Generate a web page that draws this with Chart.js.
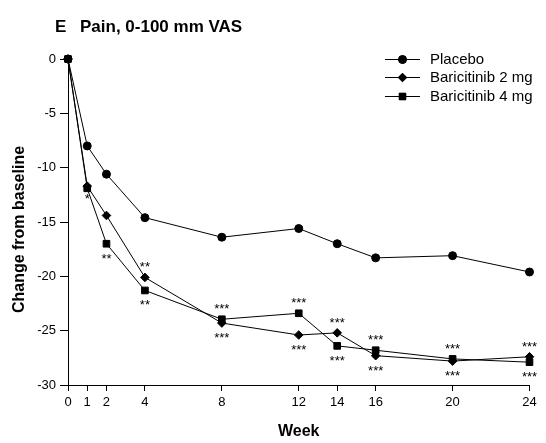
<!DOCTYPE html>
<html>
<head>
<meta charset="utf-8">
<script src="https://cdn.jsdelivr.net/npm/chart.js@4/dist/chart.umd.min.js"></script>
<style>
  html, body { margin: 0; padding: 0; background: #fff; }
  #wrap { width: 546px; height: 443px; position: relative; }
</style>
</head>
<body>
<div id="wrap"><canvas id="c" width="546" height="443"></canvas></div>
<script>
// Study weeks at which pain was assessed
const weeks = [0, 1, 2, 4, 8, 12, 14, 16, 20, 24];

// Mean change from baseline in pain (0-100 mm VAS)
const placebo = [0, -8.0, -10.6, -14.6, -16.4, -15.6, -17.0, -18.3, -18.1, -19.6];
const bari2mg = [0, -11.7, -14.4, -20.1, -24.3, -25.4, -25.2, -27.3, -27.8, -27.4];
const bari4mg = [0, -11.9, -17.0, -21.3, -23.95, -23.4, -26.4, -26.8, -27.6, -27.9];

// Significance markers versus placebo, above and below the active-treatment points
const sigAbove = ['', '', '', '**', '***', '***', '***', '***', '***', '***'];
const sigBelow = ['', '*', '**', '**', '***', '***', '***', '***', '***', '***'];

const seriesNames = ['Placebo', 'Baricitinib 2 mg', 'Baricitinib 4 mg'];
const yTicks = [0, -5, -10, -15, -20, -25, -30];

const FONT = '"Liberation Sans", Arial, Helvetica, sans-serif';

const toPoints = arr => weeks.map((w, i) => ({ x: w, y: arr[i] }));

const styles = [
  { pointStyle: 'circle', pointRadius: 4 },
  { pointStyle: 'rectRot', pointRadius: 4.3 },
  { pointStyle: 'rect', pointRadius: 4.7 }
];

const datasets = [placebo, bari2mg, bari4mg].map((arr, k) => ({
  label: seriesNames[k],
  data: toPoints(arr),
  borderColor: '#000',
  backgroundColor: '#000',
  borderWidth: 1,
  pointBorderWidth: 1,
  pointBorderColor: '#000',
  pointBackgroundColor: '#000',
  pointStyle: styles[k].pointStyle,
  pointRadius: styles[k].pointRadius,
  pointHoverRadius: styles[k].pointRadius,
  tension: 0,
  clip: false
}));

// Title, rotated y title, legend and significance stars
const decorations = {
  id: 'decorations',
  afterDatasetsDraw(chart) {
    const ctx = chart.ctx;
    const xs = chart.scales.x, ys = chart.scales.y;
    ctx.save();
    ctx.fillStyle = '#000';

    // significance stars
    ctx.font = '13px ' + FONT;
    ctx.textAlign = 'center';
    ctx.textBaseline = 'alphabetic';
    const drawStar = (txt, x, yCenter) => {
      if (!txt) return;
      const m = ctx.measureText(txt);
      const base = yCenter + (m.actualBoundingBoxAscent - m.actualBoundingBoxDescent) / 2;
      ctx.fillText(txt, x, base);
    };
    weeks.forEach((w, i) => {
      const x = xs.getPixelForValue(w);
      const p2 = ys.getPixelForValue(bari2mg[i]);
      const p4 = ys.getPixelForValue(bari4mg[i]);
      const gap = sigBelow[i].length === 1 ? 8 : 12.5;
      drawStar(sigAbove[i], x, Math.min(p2, p4) - 12.5);
      drawStar(sigBelow[i], x, Math.max(p2, p4) + gap);
    });

    // chart title
    ctx.textAlign = 'left';
    ctx.textBaseline = 'alphabetic';
    ctx.font = 'bold 17px ' + FONT;
    ctx.fillText('E', 55, 31.5);
    ctx.fillText('Pain, 0-100 mm VAS', 80, 31.5);

    // y axis title
    ctx.save();
    ctx.translate(20, 229.5);
    ctx.rotate(-Math.PI / 2);
    ctx.textAlign = 'center';
    ctx.textBaseline = 'middle';
    ctx.font = 'bold 16px ' + FONT;
    ctx.fillText('Change from baseline', 0, 0);
    ctx.restore();

    // legend
    ctx.font = '15px ' + FONT;
    ctx.textAlign = 'left';
    ctx.textBaseline = 'middle';
    chart.data.datasets.forEach((ds, k) => {
      const y = Math.round(58.5 + k * 18.5) + 0.5;
      ctx.strokeStyle = '#000';
      ctx.lineWidth = 1;
      ctx.beginPath();
      ctx.moveTo(385, y);
      ctx.lineTo(420, y);
      ctx.stroke();
      ctx.fillStyle = '#000';
      Chart.helpers.drawPoint(ctx, {
        pointStyle: ds.pointStyle,
        radius: ds.pointRadius,
        borderWidth: 1,
        rotation: 0
      }, 402.5, y);
      ctx.fill();
      ctx.fillStyle = '#000';
      ctx.fillText(ds.label, 430, y);
    });
    ctx.restore();
  }
};

new Chart(document.getElementById('c'), {
  type: 'line',
  data: { datasets },
  plugins: [decorations],
  options: {
    responsive: false,
    animation: false,
    events: [],
    layout: { padding: { top: 59, right: 16.5, left: 0, bottom: 0 } },
    plugins: {
      legend: { display: false },
      title: { display: false },
      tooltip: { enabled: false }
    },
    scales: {
      x: {
        type: 'linear',
        min: 0,
        max: 24,
        afterBuildTicks: s => { s.ticks = weeks.map(v => ({ value: v })); },
        afterFit: s => { s.height = 58; },
        grid: {
          drawOnChartArea: false,
          drawTicks: true,
          tickLength: 6,
          color: '#000',
          lineWidth: 1
        },
        border: { display: true, color: '#000', width: 1 },
        ticks: {
          color: '#000',
          padding: 4,
          maxRotation: 0,
          autoSkip: false,
          font: { family: FONT, size: 13 }
        },
        title: {
          display: true,
          text: 'Week',
          color: '#000',
          font: { family: FONT, size: 16, weight: 'bold', lineHeight: 1 },
          padding: { top: 0, bottom: 3 }
        }
      },
      y: {
        type: 'linear',
        min: -30,
        max: 0,
        afterBuildTicks: s => { s.ticks = yTicks.map(v => ({ value: v })); },
        afterFit: s => { s.width = 68; },
        grid: {
          drawOnChartArea: false,
          drawTicks: true,
          tickLength: 8,
          color: '#000',
          lineWidth: 1
        },
        border: { display: true, color: '#000', width: 1 },
        ticks: {
          color: '#000',
          padding: 4,
          font: { family: FONT, size: 13 }
        }
      }
    }
  }
});
</script>
</body>
</html>
